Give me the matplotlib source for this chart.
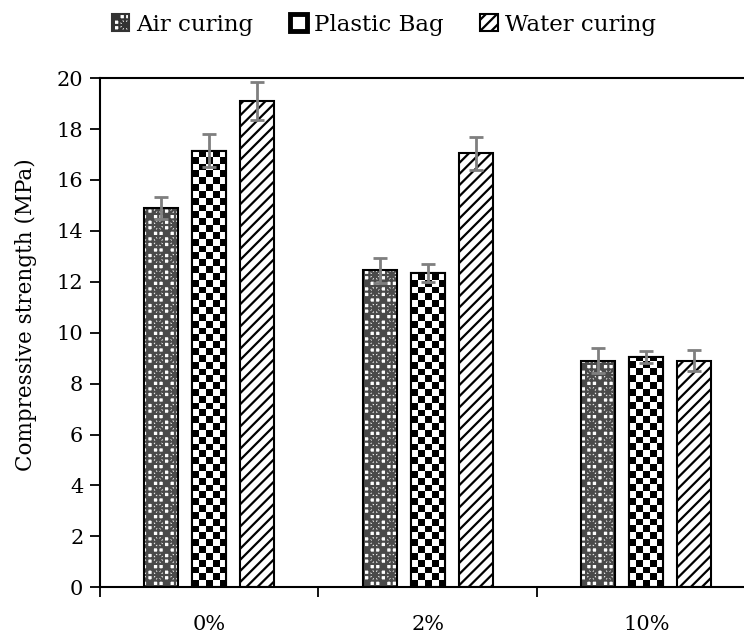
import numpy as np
import matplotlib
matplotlib.use("Agg")
import matplotlib.pyplot as plt
from matplotlib.patches import Patch

# data
categories = ["0%", "2%", "10%"]
series = ["Air curing", "Plastic Bag", "Water curing"]
air = [14.9, 12.45, 8.9]
plastic = [17.15, 12.35, 9.05]
water = [19.1, 17.05, 8.9]
air_err = [0.45, 0.5, 0.48]
plastic_err = [0.65, 0.35, 0.22]
water_err = [0.75, 0.65, 0.42]
y_ticks = [0, 2, 4, 6, 8, 10, 12, 14, 16, 18, 20]

plt.rcParams["font.family"] = ["DejaVu Serif"]
plt.rcParams["hatch.linewidth"] = 1.6

fig = plt.figure(figsize=(7.44, 6.38), dpi=100)
ax = fig.add_axes([0.1344, 0.0795, 0.881, 0.798])

x = np.arange(len(categories))
width = 0.156
offset = 0.22
err_kw = dict(fmt="none", ecolor="#7f7f7f", elinewidth=2, capsize=5, capthick=2, zorder=4)
air_hatch = "+++xx"

# air curing - dense grey crossed hatch, black outline on top
ax.bar(x - offset, air, width, color="white", edgecolor="#4a4a4a",
       hatch=air_hatch, linewidth=0, zorder=2)
ax.bar(x - offset, air, width, color="none", edgecolor="black", linewidth=1.5, zorder=3)
ax.errorbar(x - offset, air, yerr=air_err, **err_kw)

# plastic bag - checkerboard, drawn as a clipped image inside each bar
b_pl = ax.bar(x, plastic, width, color="white", edgecolor="black", linewidth=1.5, zorder=2)
px_per_x = 655.5 / 3.0
px_per_y = 509.0 / 20.0
for rect in b_pl:
    x0, w, h = rect.get_x(), rect.get_width(), rect.get_height()
    ncol = 5
    cell_px = w * px_per_x / ncol
    nrow = max(1, int(round(h * px_per_y / cell_px)))
    ii, jj = np.indices((nrow, ncol))
    board = ((ii + jj) % 2).astype(float)
    im = ax.imshow(board, cmap="gray", vmin=0, vmax=1, interpolation="nearest",
                   extent=[x0, x0 + w, 0, nrow * cell_px / px_per_y],
                   origin="lower", aspect="auto", zorder=2.5)
    im.set_clip_path(rect)
ax.bar(x, plastic, width, color="none", edgecolor="black", linewidth=1.5, zorder=3)
ax.errorbar(x, plastic, yerr=plastic_err, **err_kw)

# water curing - diagonal hatch
ax.bar(x + offset, water, width, color="white", edgecolor="black",
       hatch="///", linewidth=1.5, zorder=2)
ax.errorbar(x + offset, water, yerr=water_err, **err_kw)

ax.set_xlim(-0.5, 2.5)
ax.set_ylim(0, 20)
ax.set_yticks(y_ticks)
ax.tick_params(axis="y", direction="out", length=7, width=1.3, labelsize=15, pad=5)
ax.set_xticks(x)
ax.set_xticklabels(categories)
ax.tick_params(axis="x", which="major", length=0, labelsize=15, pad=20)
ax.set_xticks([-0.5, 0.5, 1.5], minor=True)
ax.tick_params(axis="x", which="minor", direction="out", length=7, width=1.3)

ax.spines["right"].set_visible(False)
for s in ["left", "bottom", "top"]:
    ax.spines[s].set_linewidth(1.5)

ax.set_ylabel("Compressive strength (MPa)", fontsize=15.5)
ax.yaxis.set_label_coords(-0.096, 0.535)

# legend
handles = [
    Patch(facecolor="white", edgecolor="#333333", hatch=air_hatch, linewidth=1.5),
    Patch(facecolor="white", edgecolor="black", linewidth=3.5),
    Patch(facecolor="white", edgecolor="black", hatch="///", linewidth=1.5),
]
fig.legend(handles, series, loc="center", bbox_to_anchor=(0.516, 0.961), ncol=3,
           frameon=False, fontsize=16.5, handlelength=0.75, handleheight=0.75,
           handletextpad=0.3, columnspacing=1.6)

fig.savefig("out.png", dpi=100)
